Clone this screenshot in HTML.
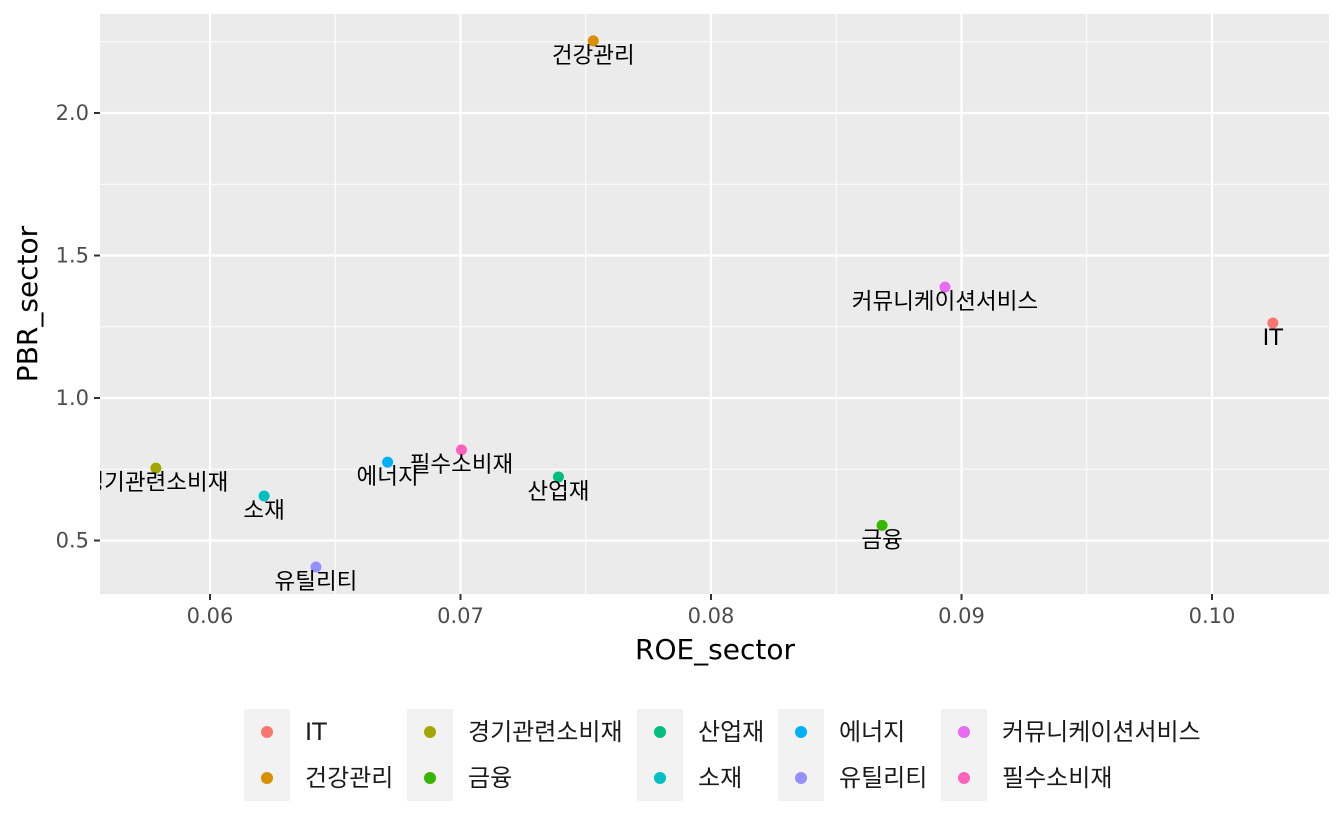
<!DOCTYPE html>
<html><head><meta charset="utf-8">
<style>
html,body{margin:0;padding:0;background:#fff;}
svg text{font-family:"DejaVu Sans","Noto Sans CJK KR","NanumGothic",sans-serif;}
</style></head>
<body>
<svg id="chart" width="1344" height="830" xmlns="http://www.w3.org/2000/svg">
<defs><clipPath id="pc"><rect x="100" y="14" width="1229" height="580"/></clipPath></defs>
<rect x="100" y="14" width="1229" height="580" fill="#ebebeb"/>
<g id="grid"></g>
<g id="pts" clip-path="url(#pc)"></g>
<g id="axes"></g>
<text x="715" y="659" font-size="28" text-anchor="middle" fill="#000">ROE_sector</text>
<text transform="translate(37,304) rotate(-90)" font-size="28" text-anchor="middle" fill="#000">PBR_sector</text>
<g id="legend"></g>
</svg>
<script>
const sectors=["IT","건강관리","경기관련소비재","금융","산업재","소재","에너지","유틸리티","커뮤니케이션서비스","필수소비재"];
const roe=[0.10243,0.0753,0.05784,0.08683,0.07391,0.06216,0.06709,0.06423,0.08934,0.07004];
const pbr=[1.263,2.253,0.754,0.553,0.723,0.656,0.775,0.407,1.389,0.818];
const colors=["#F8766D","#D89000","#A3A500","#39B600","#00BF7D","#00BFC4","#00B0F6","#9590FF","#E76BF3","#FF62BC"];
const xTicks=[0.06,0.07,0.08,0.09,0.10];
const xTickLabels=["0.06","0.07","0.08","0.09","0.10"];
const xMinor=[0.065,0.075,0.085,0.095];
const yTicks=[0.5,1.0,1.5,2.0];
const yTickLabels=["0.5","1.0","1.5","2.0"];
const yMinor=[0.75,1.25,1.75,2.25];

const NS="http://www.w3.org/2000/svg";
function sx(v){return 210+(v-0.06)*25050;}
function sy(v){return 398-(v-1.0)*285;}
function mk(tag,attrs,parent){const e=document.createElementNS(NS,tag);for(const k in attrs)e.setAttribute(k,attrs[k]);parent.appendChild(e);return e;}
const grid=document.getElementById('grid'),pts=document.getElementById('pts'),axes=document.getElementById('axes'),leg=document.getElementById('legend');

xMinor.forEach(v=>{const l=mk('line',{x1:sx(v),x2:sx(v),y1:14,y2:594,stroke:'#fff','stroke-width':1},grid);

});
yMinor.forEach(v=>{const l=mk('line',{x1:100,x2:1329,y1:sy(v),y2:sy(v),stroke:'#fff','stroke-width':1},grid);

});
xTicks.forEach((v,i)=>{const l=mk('line',{x1:sx(v),x2:sx(v),y1:14,y2:594,stroke:'#fff','stroke-width':2.2},grid);


mk('line',{x1:sx(v),x2:sx(v),y1:594,y2:600,stroke:'#333','stroke-width':2},axes);
const t=mk('text',{x:sx(v),y:623,'font-size':21,'text-anchor':'middle',fill:'#4d4d4d'},axes);t.textContent=xTickLabels[i];

});
yTicks.forEach((v,i)=>{const l=mk('line',{x1:100,x2:1329,y1:sy(v),y2:sy(v),stroke:'#fff','stroke-width':2.2},grid);


mk('line',{x1:94,x2:100,y1:sy(v),y2:sy(v),stroke:'#333','stroke-width':2},axes);
const t=mk('text',{x:89,y:sy(v)+7,'font-size':21,'text-anchor':'end',fill:'#4d4d4d'},axes);t.textContent=yTickLabels[i];

});

sectors.forEach((s,i)=>{const c=mk('circle',{cx:sx(roe[i]),cy:sy(pbr[i]),r:5.5,fill:colors[i]},pts);


const t=mk('text',{x:sx(roe[i]),y:sy(pbr[i])+22,'font-size':22.5,'text-anchor':'middle',fill:'#000'},pts);t.textContent=s;

});

const colX=[244,407,637,778,941];
sectors.forEach((s,i)=>{const col=Math.floor(i/2),row=i%2;const x=colX[col],y=709+row*46;
if(row===0){const b=mk('rect',{x:x,y:709,width:46,height:92,fill:'#f2f2f2'},leg);

}
const c=mk('circle',{cx:x+23,cy:y+23,r:6,fill:colors[i]},leg);


const t=mk('text',{x:x+61,y:y+31,'font-size':24,fill:'#1a1a1a'},leg);t.textContent=s;

});
</script>
</body></html>
